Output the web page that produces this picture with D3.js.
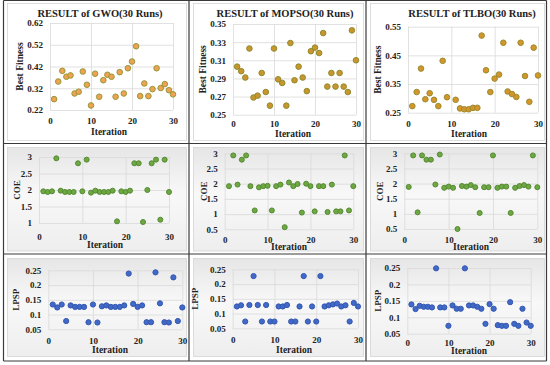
<!DOCTYPE html>
<html>
<head>
<meta charset="utf-8">
<script src="https://cdn.jsdelivr.net/npm/d3@7"></script>
<style>
  body { margin: 0; background: #fff; }
  svg text { font-family: "Liberation Serif", "DejaVu Serif", serif; font-weight: bold; fill: #222; }
</style>
</head>
<body>
<svg id="chart" width="550" height="365"></svg>
<script>
// run number on the x axis
const iterations = [1, 2, 3, 4, 5, 6, 7, 8, 9, 10, 11, 12, 13, 14, 15,
                    16, 17, 18, 19, 20, 21, 22, 23, 24, 25, 26, 27, 28, 29, 30];
const xTicks = [0, 10, 20, 30];

// best fitness per run
const gwoFitness = [0.270, 0.351, 0.400, 0.373, 0.379, 0.296, 0.304, 0.397, 0.336, 0.241,
                    0.387, 0.281, 0.357, 0.382, 0.373, 0.281, 0.394, 0.296, 0.412, 0.443,
                    0.513, 0.284, 0.342, 0.284, 0.316, 0.412, 0.321, 0.339, 0.311, 0.292];
const mopsoFitness = [0.303, 0.298, 0.291, 0.323, 0.269, 0.271, 0.296, 0.275, 0.260, 0.323,
                      0.289, 0.285, 0.260, 0.329, 0.288, 0.303, 0.291, 0.276, 0.320, 0.324,
                      0.318, 0.340, 0.281, 0.296, 0.281, 0.296, 0.281, 0.275, 0.343, 0.310];
const tlboFitness = [0.273, 0.322, 0.404, 0.297, 0.318, 0.295, 0.273, 0.431, 0.304, null,
                     0.295, 0.265, 0.262, 0.262, 0.267, 0.267, 0.519, 0.398, 0.322, 0.369,
                     0.383, 0.494, 0.324, 0.315, 0.305, 0.494, 0.378, 0.288, 0.477, 0.380];

// COE per run
const gwoCoe = [1.96, 1.94, 1.96, 2.96, 1.98, 1.94, 1.94, 1.94, 2.81, 1.96,
                2.92, 1.92, 1.98, 1.94, 1.94, 1.94, 1.98, 1.05, 1.96, 1.94,
                1.98, 2.81, 2.81, 1.03, 2.00, 2.81, 2.92, 1.10, 2.92, 1.94];
const mopsoCoe = [1.92, 2.93, 1.97, 2.79, 2.93, 1.92, 1.12, 1.88, 1.92, 1.93,
                  1.12, 1.92, 1.97, 0.57, 2.04, 1.92, 1.99, 1.05, 2.00, 1.92,
                  1.09, 1.92, 1.92, 1.07, 1.97, 1.09, 1.09, 2.93, 1.12, 1.92];
const tlboCoe = [1.89, 2.93, 1.05, 2.93, 2.79, 2.79, 1.97, 2.96, 1.86, 1.90,
                 1.86, 0.50, 1.92, 1.90, 1.95, 1.88, 1.03, 1.88, 1.88, 2.93,
                 1.86, 1.90, 1.90, 1.03, 1.86, 1.92, 1.95, 1.90, 2.93, 1.88];

// LPSP per run
const gwoLpsp = [0.134, 0.124, 0.134, 0.078, 0.131, 0.126, 0.126, 0.126, 0.074, 0.134,
                 0.073, 0.128, 0.131, 0.126, 0.126, 0.126, 0.131, 0.239, 0.136, 0.126,
                 0.131, 0.074, 0.074, 0.243, 0.138, 0.074, 0.073, 0.226, 0.078, 0.124];
const mopsoLpsp = [0.124, 0.128, 0.073, 0.129, 0.227, 0.129, 0.073, 0.129, 0.073, 0.073,
                   0.124, 0.124, 0.129, 0.073, 0.073, 0.124, 0.227, 0.073, 0.124, 0.073,
                   0.227, 0.124, 0.128, 0.131, 0.134, 0.124, 0.128, 0.073, 0.136, 0.124];
const tlboLpsp = [0.139, 0.125, 0.135, 0.132, 0.132, 0.130, 0.249, 0.130, 0.130, 0.074,
                  0.136, 0.126, 0.126, 0.249, 0.136, 0.136, 0.132, 0.126, 0.080, 0.140,
                  0.126, 0.076, 0.074, 0.074, 0.146, 0.080, 0.074, 0.126, 0.084, 0.074];

// y tick values
const gwoFitTicks = [0.22, 0.32, 0.42, 0.52, 0.62];
const mopsoFitTicks = [0.25, 0.27, 0.29, 0.31, 0.33, 0.35];
const tlboFitTicks = [0.25, 0.35, 0.45, 0.55];
const gwoCoeTicks = [1, 1.5, 2, 2.5, 3];
const coeTicks = [0.5, 1, 1.5, 2, 2.5, 3];
const lpspTicks = [0.05, 0.1, 0.15, 0.2, 0.25];

const titles = ["RESULT of GWO(30 Runs)", "RESULT of MOPSO(30 Runs)", "RESULT of TLBO(30 Runs)"];

const fitStyle = [
    { fill: "#f0a152", stroke: "#949a3a" },
    { fill: "#c9952c", stroke: "#8e8c30" },
    { fill: "#d4952a", stroke: "#9a8c30" }
];
const coeStyle = { fill: "#6ea843", stroke: "#558a32" };
const lpspStyle = { fill: "#4169c8", stroke: "#3558b0" };

const f2 = d3.format(".2f");

// plot rectangles (l, rr, t, b) and where the labels go
const panels = [
    { values: gwoFitness, ticks: gwoFitTicks, fmt: f2, style: fitStyle[0], r: 2.8,
      l: 50, rr: 173, t: 23, b: 110, yLab: "Best Fitness", yLabX: 20, xTickY: 120.5, iterX: 109, iterY: 132, title: titles[0], titleX: 100 },
    { values: mopsoFitness, ticks: mopsoFitTicks, fmt: f2, style: fitStyle[1], r: 2.8,
      l: 233, rr: 356, t: 24, b: 114.7, yLab: "Best Fitness", yLabX: 203, xTickY: 124, iterX: 293, iterY: 133.5, title: titles[1], titleX: 285 },
    { values: tlboFitness, ticks: tlboFitTicks, fmt: f2, style: fitStyle[2], r: 2.8,
      l: 408, rr: 538, t: 26.7, b: 112.7, yLab: "Best Fitness", yLabX: 378, xTickY: 123.5, iterX: 469, iterY: 133.5, title: titles[2], titleX: 472 },

    { values: gwoCoe, ticks: gwoCoeTicks, fmt: d3.format(""), style: coeStyle, r: 2.5,
      l: 39, rr: 169, t: 157, b: 223, yLab: "COE", yLabX: 17, xTickY: 236.5, iterX: 105, iterY: 245 },
    { values: mopsoCoe, ticks: coeTicks, fmt: d3.format(""), style: coeStyle, r: 2.5,
      l: 224.7, rr: 353.3, t: 153.3, b: 229.3, yLab: "COE", yLabX: 204, xTickY: 239.5, iterX: 289, iterY: 246.5 },
    { values: tlboCoe, ticks: coeTicks, fmt: d3.format(""), style: coeStyle, r: 2.5,
      l: 404.3, rr: 537.3, t: 153.3, b: 229, yLab: "COE", yLabX: 380, xTickY: 239.5, iterX: 471, iterY: 246.5 },

    { values: gwoLpsp, ticks: lpspTicks, fmt: d3.format(""), style: lpspStyle, r: 2.6,
      l: 48.3, rr: 182.3, t: 270.3, b: 329.3, yLab: "LPSP", yLabX: 16, xTickY: 340.5, iterX: 110, iterY: 350 },
    { values: mopsoLpsp, ticks: lpspTicks, fmt: d3.format(""), style: lpspStyle, r: 2.6,
      l: 232.7, rr: 358, t: 269.3, b: 328.3, yLab: "LPSP", yLabX: 195, xTickY: 339.5, iterX: 294, iterY: 350 },
    { values: tlboLpsp, ticks: lpspTicks, fmt: d3.format(""), style: lpspStyle, r: 2.6,
      l: 407.3, rr: 530.7, t: 268, b: 333.7, yLab: "LPSP", yLabX: 378, xTickY: 343, iterX: 469, iterY: 351 }
];

const svg = d3.select("#chart");

const defs = svg.append("defs");
const grad = defs.append("linearGradient").attr("id", "boxGrad")
    .attr("x1", 0).attr("y1", 0).attr("x2", 0).attr("y2", 1);
grad.append("stop").attr("offset", "0%").attr("stop-color", "#e6e6e6");
grad.append("stop").attr("offset", "45%").attr("stop-color", "#f8f8f8");
grad.append("stop").attr("offset", "100%").attr("stop-color", "#eeeeee");

// chart frames inside the table cells
const colFrames = [[7, 186], [193, 363], [370, 544]];
const rowFrames = [[3, 140], [147, 250.5], [258, 356]];
rowFrames.forEach((rf, ri) => {
    colFrames.forEach(cf => {
        svg.append("rect")
            .attr("x", cf[0] + 0.5).attr("y", rf[0] + 0.5)
            .attr("width", cf[1] - cf[0]).attr("height", rf[1] - rf[0])
            .attr("fill", ri === 0 ? "#fff" : "url(#boxGrad)")
            .attr("stroke", "#d4d4d4").attr("stroke-width", 0.8);
    });
});

panels.forEach(p => {
    const x = d3.scaleLinear().domain([0, 30]).range([p.l, p.rr]);
    const y = d3.scaleLinear().domain([p.ticks[0], p.ticks[p.ticks.length - 1]]).range([p.b, p.t]);
    const g = svg.append("g");

    // horizontal gridlines + y labels
    const ya = g.append("g").attr("transform", `translate(${p.l},0)`)
        .call(d3.axisLeft(y).tickValues(p.ticks).tickFormat(p.fmt)
            .tickSizeInner(-(p.rr - p.l)).tickSizeOuter(0).tickPadding(7));
    // vertical gridlines + x labels
    const xa = g.append("g").attr("transform", `translate(0,${p.b})`)
        .call(d3.axisBottom(x).tickValues(xTicks)
            .tickSizeInner(-(p.b - p.t)).tickSizeOuter(0).tickPadding(0));

    [ya, xa].forEach(a => {
        a.select(".domain").remove();
        a.selectAll("line").attr("stroke", "#d9d9d9").attr("stroke-width", 0.8);
        a.selectAll("text").attr("font-size", 9).attr("fill", "#222");
    });
    xa.selectAll("text").attr("y", p.xTickY - p.b).attr("dy", "0.35em");

    // points
    g.append("g").selectAll("circle")
        .data(iterations.map((it, i) => ({ it, v: p.values[i] })).filter(d => d.v !== null))
        .join("circle")
        .attr("cx", d => x(d.it))
        .attr("cy", d => y(d.v))
        .attr("r", p.r)
        .attr("fill", p.style.fill)
        .attr("stroke", p.style.stroke)
        .attr("stroke-width", 1);

    // axis titles
    g.append("text")
        .attr("transform", `translate(${p.yLabX},${(p.t + p.b) / 2}) rotate(-90)`)
        .attr("text-anchor", "middle").attr("dy", "0.35em")
        .attr("font-size", p.yLab === "Best Fitness" ? 9.5 : 9)
        .text(p.yLab);
    g.append("text")
        .attr("x", p.iterX).attr("y", p.iterY)
        .attr("text-anchor", "middle").attr("dy", "0.35em")
        .attr("font-size", 9.5)
        .text("Iteration");
    if (p.title) {
        g.append("text")
            .attr("x", p.titleX).attr("y", 13.5)
            .attr("text-anchor", "middle").attr("dy", "0.35em")
            .attr("font-size", 10.5)
            .text(p.title);
    }
});

// table borders
const colLines = [3.5, 189, 366, 546.5];
const rowLines = [0.5, 143.5, 254, 361];
colLines.forEach(cx => {
    svg.append("line").attr("x1", cx).attr("x2", cx).attr("y1", rowLines[0]).attr("y2", rowLines[3])
        .attr("stroke", "#3a3a3a").attr("stroke-width", 1.2);
});
rowLines.forEach(ry => {
    svg.append("line").attr("y1", ry).attr("y2", ry).attr("x1", colLines[0]).attr("x2", colLines[3])
        .attr("stroke", "#3a3a3a").attr("stroke-width", 1.2);
});
</script>
</body>
</html>
